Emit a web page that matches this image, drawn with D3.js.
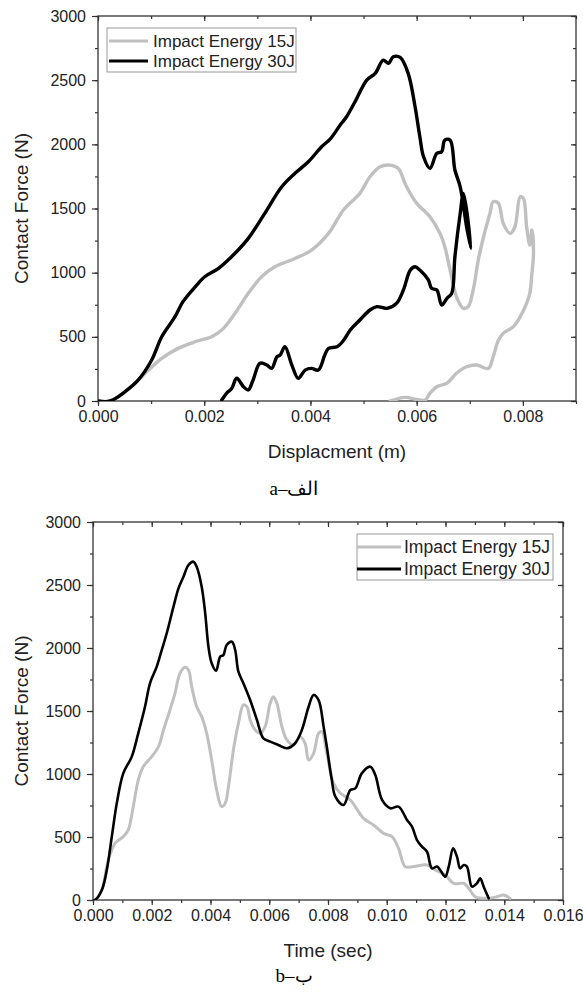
<!DOCTYPE html>
<html>
<head>
<meta charset="utf-8">
<script src="https://cdn.jsdelivr.net/npm/d3@7"></script>
<style>
  html, body { margin: 0; padding: 0; background: #fff; }
  svg { display: block; }
  text { font-family: "Liberation Sans", Arial, sans-serif; fill: #222; }
  .caption { font-family: "Liberation Serif", "DejaVu Serif", serif; fill: #000; }
</style>
</head>
<body>
<svg id="chart" width="583" height="992"></svg>
<script>
// Force–displacement curves, impact energy 15 J (grey) and 30 J (black)
const disp15 = [
  [0,0],[0.00023,0],[0.00051,73],[0.00076,164],[0.00095,241],[0.0012,332],[0.00151,410],
  [0.00183,462],[0.00214,501],[0.00233,553],[0.00258,683],[0.00283,839],[0.00308,968],
  [0.00333,1046],[0.00371,1111],[0.00402,1176],[0.00434,1306],[0.00462,1488],[0.00493,1618],
  [0.00512,1747],[0.00531,1825],[0.0055,1838],[0.00565,1813],[0.00581,1669],[0.006,1540],
  [0.00625,1436],[0.00644,1306],[0.00653,1202],[0.00663,1020],[0.00675,812],[0.00688,722],
  [0.00697,735],[0.00707,878],[0.00716,1098],[0.00726,1280],[0.00738,1462],[0.00744,1553],
  [0.00754,1540],[0.00763,1384],[0.00776,1306],[0.00785,1358],[0.00795,1592],[0.00801,1579],
  [0.00807,1358],[0.00813,1215],[0.00817,1332],[0.0082,1150],[0.00817,994],[0.00813,839],
  [0.00807,761],[0.00795,657],[0.00782,579],[0.00763,527],[0.00754,475],[0.00744,345],
  [0.00735,254],[0.00713,280],[0.00694,267],[0.00675,216],[0.00657,138],[0.00638,111],
  [0.00625,60],[0.00616,8],[0.006,12],[0.0058,28],[0.0057,25],[0.0056,10],[0.0055,0]
];
const disp30 = [
  [0,0],[0.00023,0],[0.00051,73],[0.00076,164],[0.00101,319],[0.0012,501],[0.00145,657],
  [0.0016,774],[0.00183,890],[0.00201,968],[0.00227,1034],[0.00258,1151],[0.00283,1267],
  [0.00314,1462],[0.00346,1669],[0.00371,1774],[0.00396,1864],[0.00421,1981],[0.00437,2040],
  [0.00456,2150],[0.00468,2215],[0.00484,2332],[0.00506,2501],[0.00522,2553],[0.00537,2656],
  [0.00547,2631],[0.00556,2682],[0.00569,2677],[0.00584,2553],[0.00597,2293],[0.00606,2059],
  [0.00613,1903],[0.00625,1813],[0.00638,1930],[0.00647,1942],[0.00653,2033],[0.00663,2033],
  [0.00672,1800],[0.00682,1669],[0.00694,1358],[0.00702,1190],[0.00688,1617],[0.00682,1462],
  [0.00672,1124],[0.00666,839],[0.00657,800],[0.00647,748],[0.00638,865],[0.00628,878],
  [0.00622,943],[0.00606,1020],[0.00597,1046],[0.00588,1020],[0.00575,865],[0.00562,761],
  [0.00544,722],[0.00525,735],[0.00512,709],[0.00493,631],[0.00475,553],[0.00462,470],
  [0.0045,423],[0.00434,410],[0.00427,358],[0.00415,241],[0.00402,254],[0.0039,241],
  [0.00377,177],[0.00365,280],[0.00352,423],[0.00343,358],[0.00337,345],[0.00327,254],
  [0.00318,280],[0.00305,294],[0.00292,164],[0.00283,86],[0.00274,111],[0.00261,177],
  [0.00252,99],[0.00242,60],[0.00233,8]
];

// Force–time histories for the same two impacts
const time15 = [
  [0,0],[0.00007,0],[0.0003,79],[0.00052,317],[0.00075,450],[0.00103,503],[0.0012,556],
  [0.00137,741],[0.00154,952],[0.00171,1058],[0.002,1138],[0.00223,1217],[0.0024,1349],
  [0.00262,1508],[0.00279,1640],[0.00296,1799],[0.00313,1847],[0.00325,1826],[0.00336,1693],
  [0.00353,1534],[0.0037,1455],[0.00387,1323],[0.00404,1111],[0.00421,873],[0.00438,741],
  [0.0045,767],[0.00461,899],[0.00478,1191],[0.00495,1402],[0.00512,1548],[0.00524,1534],
  [0.00535,1429],[0.00552,1349],[0.00569,1323],[0.00586,1376],[0.00603,1561],[0.00614,1614],
  [0.00626,1561],[0.00643,1376],[0.0066,1270],[0.00682,1230],[0.00705,1296],[0.00722,1244],
  [0.00734,1111],[0.00751,1164],[0.00768,1323],[0.00779,1336],[0.00796,1164],[0.00819,926],
  [0.00842,847],[0.00876,794],[0.00921,648],[0.00955,595],[0.00989,529],[0.01018,503],
  [0.0104,410],[0.01063,265],[0.01091,265],[0.01137,278],[0.01165,238],[0.01199,198],
  [0.01228,132],[0.01262,132],[0.01279,93],[0.01301,26],[0.01341,13],[0.01375,26],
  [0.01398,40],[0.0142,13]
];
const time30 = [
  [0,0],[0.00007,0],[0.0003,79],[0.00047,238],[0.00064,503],[0.00081,767],[0.00103,1005],
  [0.00132,1138],[0.00154,1323],[0.00177,1534],[0.00194,1720],[0.00217,1852],[0.00234,1984],
  [0.00251,2117],[0.00274,2328],[0.00291,2473],[0.00308,2566],[0.00325,2659],[0.00342,2685],
  [0.00353,2645],[0.0037,2487],[0.00382,2275],[0.00393,2010],[0.00404,1879],[0.00419,1820],
  [0.00433,1931],[0.00444,1944],[0.00455,2024],[0.00473,2050],[0.00484,1984],[0.00495,1812],
  [0.00512,1720],[0.00535,1587],[0.00558,1429],[0.0058,1283],[0.00603,1257],[0.00631,1230],
  [0.0066,1204],[0.00688,1244],[0.00711,1349],[0.00734,1534],[0.00751,1627],[0.00768,1587],
  [0.00785,1376],[0.00796,1217],[0.00813,952],[0.00825,820],[0.00853,754],[0.00876,873],
  [0.00893,886],[0.00915,1005],[0.00944,1058],[0.00961,992],[0.00984,794],[0.01012,728],
  [0.0104,741],[0.01069,635],[0.01086,582],[0.01103,476],[0.0112,423],[0.01137,383],
  [0.01154,251],[0.01171,265],[0.01182,238],[0.01199,185],[0.01211,265],[0.01226,410],
  [0.01239,344],[0.0125,251],[0.01262,278],[0.01273,265],[0.0129,106],[0.01307,132],
  [0.01318,172],[0.0133,106],[0.01347,13]
];

const seriesNames = ["Impact Energy 15J", "Impact Energy 30J"];
const forceTicks = [0, 500, 1000, 1500, 2000, 2500, 3000];
const dispTicks = [0, 0.002, 0.004, 0.006, 0.008];
const timeTicks = [0, 0.002, 0.004, 0.006, 0.008, 0.010, 0.012, 0.014, 0.016];

const svg = d3.select("#chart");
const fmt3 = d3.format(".3f");

function drawPanel(p) {
  const x = d3.scaleLinear().domain(p.xDomain).range([p.left, p.right]);
  const y = d3.scaleLinear().domain([0, 3000]).range([p.bottom, p.top]);
  const g = svg.append("g");
  const axisColor = "#333";

  const xMinor = d3.range(p.xDomain[0], p.xDomain[1] + 1e-9, 0.001);
  const yMinor = d3.range(0, 3001, 250);

  // bottom and left axes (outward ticks)
  const bottom = g.append("g").attr("transform", `translate(0,${p.bottom})`)
    .call(d3.axisBottom(x).tickValues(xMinor).tickSize(3).tickFormat(""));
  bottom.append("g").call(d3.axisBottom(x).tickValues(p.xTicks).tickSize(5).tickFormat(fmt3));
  const left = g.append("g").attr("transform", `translate(${p.left},0)`)
    .call(d3.axisLeft(y).tickValues(yMinor).tickSize(3).tickFormat(""));
  left.append("g").call(d3.axisLeft(y).tickValues(forceTicks).tickSize(6).tickFormat(d3.format("d")));

  // mirrored top and right axes (inward ticks)
  const top = g.append("g").attr("transform", `translate(0,${p.top})`)
    .call(d3.axisBottom(x).tickValues(xMinor).tickSize(3).tickFormat(""));
  top.append("g").call(d3.axisBottom(x).tickValues(p.xTicks).tickSize(5).tickFormat(""));
  const right = g.append("g").attr("transform", `translate(${p.right},0)`)
    .call(d3.axisLeft(y).tickValues(yMinor).tickSize(3).tickFormat(""));
  right.append("g").call(d3.axisLeft(y).tickValues(forceTicks).tickSize(5).tickFormat(""));

  g.selectAll(".domain").remove();
  g.selectAll(".tick line").attr("stroke", axisColor).attr("stroke-width", 1.2);
  g.selectAll(".tick text").attr("font-size", 16).attr("fill", "#222")
    .attr("font-family", '"Liberation Sans", Arial, sans-serif');
  bottom.selectAll(".tick text").attr("y", 10);
  left.selectAll(".tick text").attr("x", -p.yLabelGap);

  g.append("rect")
    .attr("x", p.left).attr("y", p.top)
    .attr("width", p.right - p.left).attr("height", p.bottom - p.top)
    .attr("fill", "none").attr("stroke", axisColor).attr("stroke-width", 1.3);

  const line = d3.line().x(d => x(d[0])).y(d => y(d[1]))
    .curve(d3.curveCatmullRom.alpha(0.5));
  const clipId = "clip" + p.id;
  g.append("clipPath").attr("id", clipId).append("rect")
    .attr("x", p.left).attr("y", p.top - 2)
    .attr("width", p.right - p.left).attr("height", p.bottom - p.top + 2);
  const curves = g.append("g").attr("clip-path", `url(#${clipId})`);
  curves.append("path").datum(p.s15).attr("d", line)
    .attr("fill", "none").attr("stroke", "#c0c0c0").attr("stroke-width", p.w15)
    .attr("stroke-linejoin", "round").attr("stroke-linecap", "round");
  curves.append("path").datum(p.s30).attr("d", line)
    .attr("fill", "none").attr("stroke", "#000").attr("stroke-width", p.w30)
    .attr("stroke-linejoin", "round").attr("stroke-linecap", "round");

  // axis titles
  g.append("text").attr("x", (p.left + p.right) / 2).attr("y", p.bottom + 57)
    .attr("text-anchor", "middle").attr("font-size", 19).text(p.xTitle);
  g.append("text")
    .attr("transform", `translate(28,${(p.top + p.bottom) / 2}) rotate(-90)`)
    .attr("text-anchor", "middle").attr("font-size", 19).text("Contact Force (N)");

  // legend
  const L = p.legend;
  g.append("rect").attr("x", L.x).attr("y", L.y).attr("width", L.w).attr("height", L.h)
    .attr("fill", "#fff").attr("stroke", "#999").attr("stroke-width", 1);
  const colors = ["#c0c0c0", "#000"];
  seriesNames.forEach((name, i) => {
    const ry = L.rows[i];
    g.append("line").attr("x1", L.x1).attr("x2", L.x2).attr("y1", ry).attr("y2", ry)
      .attr("stroke", colors[i]).attr("stroke-width", 3);
    g.append("text").attr("x", L.tx).attr("y", ry + 6)
      .attr("font-size", L.fs).text(name);
  });

  // caption below the panel
  svg.append("text").attr("class", "caption")
    .attr("x", 294).attr("y", p.captionY).attr("text-anchor", "middle")
    .attr("direction", "ltr").attr("unicode-bidi", "embed")
    .attr("font-size", 19).text(p.caption);
}

drawPanel({
  id: "a", left: 98, right: 576, top: 16, bottom: 401,
  xDomain: [0, 0.009], xTicks: dispTicks, yLabelGap: 12,
  s15: disp15, s30: disp30, w15: 3.4, w30: 3.4,
  xTitle: "Displacment (m)",
  legend: { x: 107, y: 28, w: 189, h: 44, x1: 109, x2: 148, tx: 153, rows: [41, 61], fs: 17 },
  caption: "a\u2013\u0627\u0644\u0641", captionY: 495
});

drawPanel({
  id: "b", left: 93, right: 563, top: 522, bottom: 900,
  xDomain: [0, 0.016], xTicks: timeTicks, yLabelGap: 12,
  s15: time15, s30: time30, w15: 3, w30: 2.6,
  xTitle: "Time (sec)",
  legend: { x: 357, y: 534, w: 196, h: 46, x1: 357, x2: 401, tx: 404, rows: [547, 569], fs: 17.5 },
  caption: "b\u2013\u0628", captionY: 982
});
</script>
</body>
</html>
